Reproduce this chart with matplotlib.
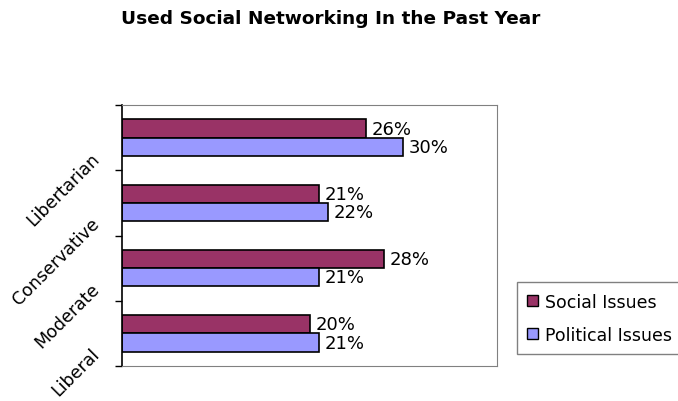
import matplotlib
matplotlib.use("Agg")
import matplotlib.pyplot as plt
from matplotlib.patches import Patch
import numpy as np

plt.rcParams['font.family'] = ['DejaVu Sans']

categories = ['Liberal', 'Moderate', 'Conservative', 'Libertarian']
social = [20, 28, 21, 26]
political = [21, 21, 22, 30]

social_color = '#993366'
political_color = '#9999FF'

fig = plt.figure(figsize=(6.78, 4.02), dpi=100)
ax = fig.add_axes([0.18, 0.087, 0.553, 0.649])

y = np.arange(len(categories))
h = 0.28
bars_s = ax.barh(y + h / 2, social, height=h, color=social_color,
                 edgecolor='black', linewidth=1.2)
bars_p = ax.barh(y - h / 2, political, height=h, color=political_color,
                 edgecolor='black', linewidth=1.2)

for bars, vals in ((bars_s, social), (bars_p, political)):
    for b, v in zip(bars, vals):
        ax.text(v + 0.6, b.get_y() + b.get_height() / 2, f'{v}%',
                va='center', ha='left', fontsize=13)

ax.set_xlim(0, 40)
ax.set_ylim(-0.5, len(categories) - 0.5)
ax.set_xticks([])

# boundary ticks between categories
ax.set_yticks(np.arange(-0.5, len(categories), 1.0))
ax.set_yticklabels([])
ax.tick_params(axis='y', which='major', length=5, width=1, direction='out')

# slanted category names, hanging below-left of each group centre
for yi, cat in zip(y, categories):
    ax.annotate(cat, xy=(0, yi), xycoords=('axes fraction', 'data'),
                xytext=(-23, -8), textcoords='offset points',
                rotation=45, ha='right', va='top', rotation_mode='anchor',
                fontsize=12.5, annotation_clip=False)

for side in ('top', 'right', 'bottom'):
    ax.spines[side].set_color('#808080')
ax.spines['left'].set_color('black')
ax.spines['left'].set_linewidth(1.2)

fig.text(0.488, 0.953, 'Used Social Networking In the Past Year',
         ha='center', va='center', fontsize=13.3, fontweight='bold')

handles = [Patch(facecolor=social_color, edgecolor='black'),
           Patch(facecolor=political_color, edgecolor='black')]
leg = fig.legend(handles, ['Social Issues', 'Political Issues'],
                 loc='lower left', bbox_to_anchor=(517 / 678, 1 - 355 / 402),
                 borderaxespad=0, fontsize=12.5, handlelength=0.6,
                 handleheight=0.6, handletextpad=0.4, fancybox=False,
                 framealpha=1, edgecolor='#808080', labelspacing=0.85,
                 borderpad=0.6)
leg.get_frame().set_linewidth(1)

fig.savefig('out.png', dpi=100)
